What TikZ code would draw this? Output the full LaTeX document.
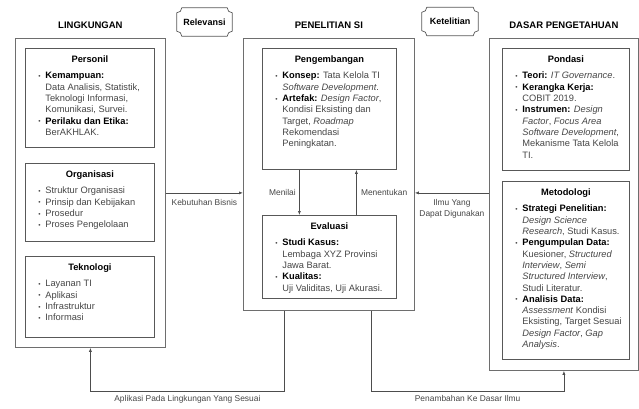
\documentclass[tikz,border=0pt]{standalone}
\usepackage{fontspec}
\setmainfont{Liberation Sans}
\usetikzlibrary{arrows.meta}

\definecolor{boxline}{HTML}{6E6E6E}
\definecolor{txtgray}{HTML}{454545}

\newcommand\hd[1]{\textcolor{black}{\textbf{#1}}}
\newcommand\itm{\par\noindent\hangindent=20pt\hangafter=1\hspace*{13pt}\makebox[7pt][l]{\raisebox{0.5pt}{\scalebox{0.7}{\textbullet}}}}
\newcommand\nl{\newline}
\newcommand\panel[4]{\parbox[c][#2][t]{#1}{\vspace*{7pt}\centering\hd{#3}\par\vspace{5.5pt}\raggedright\color{txtgray}#4\par}}
\newcommand\plaque[1]{\draw [boxline!80!black, line width=0.7pt] ([xshift=5pt]#1.north west) -- ([xshift=-5pt]#1.north east) arc (180:270:5pt) -- ([yshift=5pt]#1.south east) arc (90:180:5pt) -- ([xshift=5pt]#1.south west) arc (0:90:5pt) -- ([yshift=-5pt]#1.north west) arc (270:360:5pt) -- cycle;}

\begin{document}
\begin{tikzpicture}[x=1pt, y=-1pt, font=\fontsize{9.3}{11.3}\selectfont,
	outerbox/.style={draw=boxline, line width=0.8pt, anchor=north west, inner sep=0pt},
	subbox/.style={draw=boxline!80!black, line width=0.8pt, anchor=north west, inner sep=0pt},
	title/.style={font=\fontsize{9.5}{11}\selectfont\bfseries},
	tag/.style={font=\fontsize{9}{11}\selectfont\bfseries, minimum width=55pt, minimum height=28pt, inner sep=0pt},
	conn/.style={draw=boxline!70!black, line width=0.6pt, -{Latex[length=4pt,width=3pt]}},
	lbl/.style={font=\fontsize{8.4}{11}\selectfont, text=txtgray, align=center}]
	\useasboundingbox (0,0) rectangle (639,408);
	% the three blocks
	\node (lingk) [outerbox, minimum width=150pt, minimum height=309pt] at (15,38) {};
	\node (pen)   [outerbox, minimum width=171pt, minimum height=272pt] at (243,38) {};
	\node (dasar) [outerbox, minimum width=149pt, minimum height=332pt] at (489,38) {};
	\node (tlingk) [title] at (lingk.north |- 0,25) {LINGKUNGAN};
	\node (tpen)   [title] at (pen.north |- 0,25) {PENELITIAN SI};
	\node (tdasar) [title] at (dasar.north |- 0,25) {DASAR PENGETAHUAN};
	\node (rel) [tag] at (204.5,22) {Relevansi};
	\node (ket) [tag, minimum width=56pt] at (450,21.5) {Ketelitian};
	\plaque{rel}
	\plaque{ket}
	% lingkungan
	\node (pers) [subbox] at (25,48) {\panel{129pt}{99pt}{Personil}{
		\itm\hd{Kemampuan:}\nl Data Analisis, Statistik,\nl Teknologi Informasi,\nl Komunikasi, Survei.
		\itm\hd{Perilaku dan Etika:}\nl BerAKHLAK.}};
	\node (org) [subbox] at (25,163) {\panel{129pt}{78pt}{Organisasi}{
		\itm Struktur Organisasi
		\itm Prinsip dan Kebijakan
		\itm Prosedur
		\itm Proses Pengelolaan}};
	\node (tek) [subbox] at (25,256) {\panel{129pt}{81pt}{Teknologi}{
		\itm Layanan TI
		\itm Aplikasi
		\itm Infrastruktur
		\itm Informasi}};
	% penelitian si
	\node (peng) [subbox] at (262,48) {\panel{134pt}{121pt}{Pengembangan}{
		\itm\hd{Konsep:} Tata Kelola TI\nl\emph{Software Development}.
		\itm\hd{Artefak:} \emph{Design Factor},\nl Kondisi Eksisting dan\nl Target, \emph{Roadmap}\nl Rekomendasi\nl Peningkatan.}};
	\node (eval) [subbox] at (262,215) {\panel{134pt}{83pt}{Evaluasi}{
		\itm\hd{Studi Kasus:}\nl Lembaga XYZ Provinsi\nl Jawa Barat.
		\itm\hd{Kualitas:}\nl Uji Validitas, Uji Akurasi.}};
	% dasar pengetahuan
	\node (pond) [subbox] at (502,48) {\panel{127pt}{122pt}{Pondasi}{
		\itm\hd{Teori:} \emph{IT Governance}.
		\itm\hd{Kerangka Kerja:}\nl COBIT 2019.
		\itm\hd{Instrumen:} \emph{Design}\nl\emph{Factor}, \emph{Focus Area}\nl\emph{Software Development},\nl Mekanisme Tata Kelola\nl TI.}};
	\node (meto) [subbox] at (502,181) {\panel{127pt}{178pt}{Metodologi}{
		\itm\hd{Strategi Penelitian:}\nl\emph{Design Science}\nl\emph{Research}, Studi Kasus.
		\itm\hd{Pengumpulan Data:}\nl Kuesioner, \emph{Structured}\nl\emph{Interview}, \emph{Semi}\nl\emph{Structured Interview},\nl Studi Literatur.
		\itm\hd{Analisis Data:}\nl\emph{Assessment} Kondisi\nl Eksisting, Target Sesuai\nl\emph{Design Factor}, \emph{Gap}\nl\emph{Analysis}.}};
	% connectors
	\draw [conn] (lingk.east) -- (lingk.east -| pen.west) node [lbl, midway, below=2.5pt] {Kebutuhan Bisnis};
	\draw [conn] (lingk.east -| dasar.west) -- (lingk.east -| pen.east) node [lbl, midway, below=2.5pt] {Ilmu Yang\\Dapat Digunakan};
	\draw [conn] ([xshift=-30pt]peng.south) -- ([xshift=-30pt]peng.south |- eval.north) node [lbl, midway, left] {Menilai};
	\draw [conn] ([xshift=27pt]eval.north) -- ([xshift=27pt]eval.north |- peng.south) node [lbl, midway, right=1pt] {Menentukan};
	\draw [conn] ([xshift=-44.5pt]pen.south) -- ++(0,80) -| (lingk.south) node [lbl, pos=0.25, below=1pt] {Aplikasi Pada Lingkungan Yang Sesuai};
	\draw [conn] ([xshift=42.5pt]pen.south) -- ++(0,80) -| (dasar.south) node [lbl, pos=0.25, below=1pt] {Penambahan Ke Dasar Ilmu};
\end{tikzpicture}
\end{document}
